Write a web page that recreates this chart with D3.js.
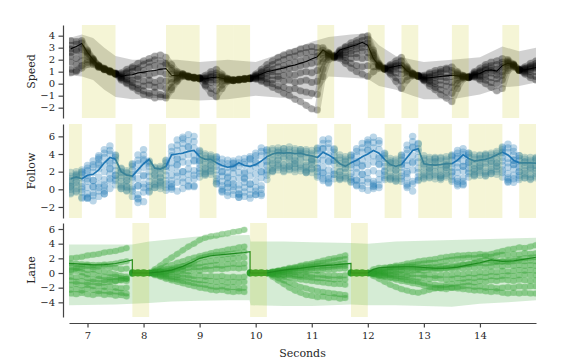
<!DOCTYPE html>
<html><head><meta charset="utf-8">
<script src="https://cdn.jsdelivr.net/npm/d3@7"></script>
<style>body{margin:0;background:#fff}svg{display:block}</style>
</head><body><svg id="c" width="576" height="360"></svg>
<script>
// ---------------- DATA ----------------
const times = [6.7,6.8,6.9,7.0,7.1,7.2,7.3,7.4,7.5,7.6,7.7,7.8,7.9,8.0,8.1,8.2,8.3,8.4,8.5,8.6,8.7,8.8,8.9,9.0,9.1,9.2,9.3,9.4,9.5,9.6,9.7,9.8,9.9,10.0,10.1,10.2,10.3,10.4,10.5,10.6,10.7,10.8,10.9,11.0,11.1,11.2,11.3,11.4,11.5,11.6,11.7,11.8,11.9,12.0,12.1,12.2,12.3,12.4,12.5,12.6,12.7,12.8,12.9,13.0,13.1,13.2,13.3,13.4,13.5,13.6,13.7,13.8,13.9,14.0,14.1,14.2,14.3,14.4,14.5,14.6,14.7,14.8,14.9,15.0];
const xTicks = [7,8,9,10,11,12,13,14];
const speedTicks = [-2,-1,0,1,2,3,4];
const followTicks = [-2,0,2,4,6];
const laneTicks = [-4,-2,0,2,4,6];

const speedYellow = [[6.9,7.5],[8.4,8.7],[8.7,9.0],[9.3,9.6],[9.6,9.9],[11.1,11.4],[12.0,12.3],[12.6,12.9],[13.5,13.8],[14.4,14.7]];
const followYellow = [[6.67,6.9],[7.5,7.8],[8.1,8.4],[9.0,9.3],[10.2,10.5],[10.5,11.1],[11.4,11.7],[12.3,12.6],[12.9,13.2],[13.2,13.5],[13.8,14.1],[14.1,14.4],[14.7,15.0]];
const laneYellow = [[7.8,8.1],[9.9,10.2],[11.7,12.0]];

// Speed
const speedTruth = [2.9,3.1,3.35,2.6,2.0,1.5,1.25,1.05,0.85,0.6,0.7,0.75,0.9,0.95,1.05,1.1,1.2,1.25,0.7,0.65,0.75,0.6,0.5,0.45,0.4,0.5,0.55,0.45,0.35,0.3,0.35,0.4,0.45,0.6,0.8,1.0,1.1,1.2,1.3,1.45,1.55,1.7,1.85,2.05,2.25,2.8,2.5,2.3,2.8,2.95,3.1,3.25,3.45,3.2,2.1,1.5,1.25,1.35,1.45,1.55,1.05,0.8,0.65,0.45,0.5,0.55,0.6,0.65,0.7,0.65,0.6,0.55,0.75,0.85,1.1,1.15,1.05,1.5,1.7,1.55,1.15,1.15,1.25,1.35];
const speedBandT  = [6.67,6.9,7.1,7.3,7.5,7.8,8.2,8.6,9.0,9.5,10.0,10.5,11.0,11.3,11.7,12.0,12.2,12.5,12.8,13.0,13.5,14.0,14.4,14.7,15.0];
const speedBandLo = [0.7,0.6,0.3,-0.5,-1.1,-1.3,-1.2,-1.3,-1.4,-1.3,-1.0,-1.2,-1.3,0.6,0.5,0.4,-0.2,-0.5,-1.0,-1.3,-1.3,-0.9,-0.3,-0.2,0.1];
const speedBandHi = [3.8,4.1,3.8,3.0,2.3,2.0,2.0,2.0,1.8,2.0,1.8,2.6,3.5,3.9,4.1,4.2,3.2,2.3,2.0,1.8,2.0,2.2,3.1,2.7,3.0];
const speedSample1 = [3.6,3.5,3.6,2.8,2.1,1.55,1.3,1.1,0.9,0.9,1.2,1.4,1.7,1.9,2.1,2.3,2.4,2.2,1.6,1.0,0.85,0.65,0.55,0.5,0.7,1.0,1.2,0.8,0.45,0.35,0.4,0.45,0.5,0.8,1.2,1.6,1.9,2.2,2.4,2.6,2.7,2.9,3.0,3.1,3.0,3.0,2.6,2.35,2.8,3.1,3.4,3.6,3.9,4.0,2.8,1.7,1.3,1.6,1.9,2.2,1.4,0.9,0.7,0.7,0.9,1.1,1.2,1.3,1.4,1.0,0.7,0.6,1.0,1.3,1.6,1.8,1.9,2.1,2.0,1.65,1.2,1.4,1.7,1.9];
const speedSample2 = [3.2,3.3,3.4,2.7,2.05,1.5,1.25,1.05,0.85,0.8,1.0,1.3,1.3,1.6,1.8,2.0,1.9,1.7,1.3,0.9,0.8,0.6,0.5,0.45,0.55,0.8,0.9,0.65,0.4,0.3,0.35,0.4,0.45,0.7,1.0,1.3,1.6,1.8,2.0,2.2,2.3,2.5,2.6,2.7,2.6,2.8,2.55,2.3,2.7,3.0,3.2,3.4,3.6,3.7,2.6,1.6,1.3,1.5,1.7,1.9,1.3,0.85,0.65,0.6,0.8,0.9,1.0,1.2,1.1,0.9,0.65,0.55,0.9,1.1,1.4,1.5,1.6,1.8,1.9,1.6,1.2,1.3,1.5,1.7];
const speedSample3 = [2.9,2.8,3.0,2.6,2.0,1.45,1.2,1.0,0.8,0.7,0.9,1.0,1.2,1.1,1.4,1.5,1.4,1.6,1.1,0.8,0.8,0.65,0.55,0.5,0.45,0.6,0.7,0.55,0.4,0.3,0.35,0.4,0.45,0.65,0.9,1.1,1.2,1.4,1.5,1.7,1.8,1.9,2.1,2.2,2.3,2.6,2.5,2.3,2.6,2.8,3.0,3.1,3.3,3.4,2.4,1.55,1.25,1.4,1.5,1.6,1.2,0.85,0.7,0.55,0.6,0.7,0.9,0.8,0.9,0.8,0.65,0.55,0.8,1.0,1.2,1.3,1.2,1.6,1.8,1.6,1.15,1.25,1.4,1.5];
const speedSample4 = [2.6,2.7,2.9,2.5,1.95,1.5,1.25,1.05,0.85,0.6,0.6,0.7,0.6,0.8,0.7,0.9,1.0,0.8,0.8,0.7,0.75,0.6,0.5,0.45,0.4,0.5,0.55,0.5,0.35,0.3,0.35,0.4,0.45,0.6,0.7,0.9,1.0,1.0,1.2,1.3,1.3,1.5,1.6,1.7,1.8,2.4,2.45,2.25,2.5,2.6,2.7,2.9,3.0,3.1,2.3,1.5,1.25,1.3,1.4,1.5,1.1,0.8,0.65,0.5,0.5,0.5,0.6,0.5,0.6,0.7,0.6,0.55,0.75,0.9,1.1,1.1,1.0,1.4,1.75,1.55,1.15,1.2,1.3,1.4];
const speedSample5 = [2.3,2.1,2.4,2.3,1.9,1.45,1.2,1.0,0.8,0.5,0.4,0.3,0.4,0.2,0.3,0.1,0.3,0.2,0.4,0.55,0.7,0.55,0.45,0.4,0.3,0.3,0.3,0.4,0.35,0.3,0.3,0.35,0.4,0.5,0.6,0.6,0.7,0.6,0.7,0.8,0.7,0.9,1.0,0.9,1.1,2.1,2.4,2.25,2.4,2.4,2.5,2.5,2.7,2.6,2.1,1.5,1.2,1.2,1.2,1.2,1.0,0.8,0.6,0.4,0.3,0.2,0.3,0.2,0.1,0.5,0.55,0.5,0.7,0.7,0.8,0.9,0.7,1.0,1.65,1.5,1.1,1.1,1.2,1.3];
const speedSample6 = [1.8,1.6,1.9,2.0,1.8,1.4,1.2,1.0,0.85,0.5,0.3,0.1,-0.1,-0.2,-0.1,-0.3,-0.2,-0.4,0.1,0.45,0.7,0.6,0.5,0.45,0.2,0.1,0.0,0.2,0.3,0.25,0.35,0.4,0.45,0.5,0.5,0.4,0.3,0.4,0.2,0.3,0.1,0.2,0.3,0.1,0.2,1.8,2.3,2.2,2.3,2.2,2.1,2.2,2.1,2.2,1.9,1.45,1.25,1.1,0.9,0.8,0.9,0.75,0.65,0.35,0.2,0.0,-0.1,-0.2,-0.3,0.3,0.55,0.55,0.65,0.6,0.6,0.5,0.4,0.7,1.5,1.5,1.15,1.0,1.0,1.0];
const speedSample7 = [1.2,1.1,1.5,1.8,1.7,1.4,1.15,1.05,0.8,0.4,0.1,-0.2,-0.4,-0.6,-0.8,-0.7,-0.9,-1.0,-0.3,0.3,0.65,0.55,0.45,0.4,-0.1,-0.4,-0.6,-0.1,0.25,0.25,0.3,0.35,0.4,0.4,0.3,0.1,0.0,-0.2,-0.3,-0.5,-0.4,-0.6,-0.7,-0.8,-0.9,1.2,2.2,2.2,2.2,1.9,1.7,1.5,1.4,1.5,1.4,1.4,1.2,0.9,0.5,0.2,0.6,0.7,0.6,0.3,0.0,-0.3,-0.5,-0.7,-0.8,0.0,0.5,0.5,0.6,0.4,0.3,0.1,0.0,0.3,1.3,1.45,1.1,0.9,0.7,0.6];
const speedSample8 = [0.9,1.0,1.3,1.6,1.6,1.35,1.2,0.95,0.8,0.3,0.0,-0.3,-0.6,-0.9,-1.0,-1.2,-1.1,-1.2,-0.5,0.2,0.6,0.55,0.5,0.45,-0.2,-0.8,-1.1,-0.4,0.2,0.25,0.3,0.4,0.45,0.4,0.2,0.0,-0.3,-0.5,-0.8,-1.0,-1.3,-1.5,-1.8,-2.1,-2.2,0.6,2.0,2.15,2.1,1.7,1.3,1.0,0.8,0.6,1.0,1.3,1.2,0.8,0.2,-0.4,0.3,0.65,0.6,0.25,-0.2,-0.5,-0.9,-1.2,-1.5,-0.4,0.4,0.5,0.55,0.3,0.0,-0.3,-0.6,-0.4,1.1,1.4,1.1,0.8,0.5,0.3];

// Follow
const followTruth = [1.2,1.4,1.2,1.6,1.7,2.2,3.0,3.6,3.4,2.0,1.6,1.5,2.2,2.9,3.4,2.4,2.3,2.6,3.9,4.0,4.1,4.3,4.4,3.7,3.4,3.4,3.0,2.7,2.5,2.6,3.0,2.7,2.6,2.8,3.2,3.7,4.0,4.15,4.1,4.15,4.05,4.1,3.9,3.8,3.6,4.2,3.9,3.5,2.9,2.6,3.0,3.3,3.7,4.0,4.4,4.1,3.4,2.8,2.6,2.8,3.6,4.4,4.6,2.9,2.8,2.75,2.8,2.9,2.9,3.3,3.9,3.5,3.2,3.3,3.4,3.6,3.9,4.2,3.9,3.3,3.0,3.0,3.0,2.95];
const followSample1 = [-0.5,-0.3,-0.9,-1.0,-1.3,-0.8,-0.5,0.1,0.5,0.1,-0.1,-0.8,-1.5,-1.4,-0.2,0.2,0.1,-0.1,0.2,-0.2,0.1,0.3,0.4,1.4,1.6,1.7,0.7,-0.3,-0.7,-0.6,-0.9,-0.8,-1.0,-0.6,-0.5,1.1,2.0,2.2,2.1,2.3,2.0,2.1,1.9,1.9,1.4,1.0,0.8,1.2,1.1,1.2,0.9,0.4,0.1,-0.1,0.3,0.2,1.1,1.1,1.0,0.9,0.2,-0.2,1.1,1.2,1.3,1.2,1.3,1.4,0.9,0.4,0.6,1.4,1.5,1.6,1.6,1.8,1.7,1.4,0.9,0.8,1.1,1.3,1.2,1.3];
const followSample2 = [0.0,0.1,-0.3,-0.5,-0.4,-0.2,0.5,0.9,1.0,0.5,0.3,-0.2,-0.6,-0.3,0.4,0.5,0.6,0.6,1.0,0.8,1.3,1.0,1.2,1.8,2.0,2.1,1.2,0.4,0.2,-0.1,0.0,-0.3,0.0,0.2,0.4,1.6,2.4,2.5,2.7,2.6,2.5,2.4,2.5,2.3,2.0,1.8,1.5,1.7,1.6,1.5,1.4,1.1,1.0,1.2,0.9,1.1,1.6,1.5,1.4,1.5,1.3,0.9,1.9,1.7,1.6,1.7,1.6,1.8,1.5,1.2,1.3,2.0,2.0,2.1,2.0,2.2,2.3,2.2,1.8,1.6,1.6,1.8,1.7,1.8];
const followSample3 = [0.4,0.5,0.3,0.2,0.3,0.6,1.1,1.7,1.6,0.9,0.6,0.3,0.4,0.6,0.9,0.9,0.8,1.0,1.6,1.9,2.0,2.3,2.1,2.4,2.3,2.4,1.6,0.9,0.7,0.6,0.5,0.8,0.6,0.9,1.3,2.2,2.8,2.9,2.8,3.0,2.9,2.8,2.7,2.8,2.4,2.5,2.2,2.1,2.0,1.9,1.8,1.9,1.7,1.9,2.1,1.8,2.0,1.9,1.8,1.9,2.0,2.2,2.4,2.0,2.1,2.0,2.1,2.2,2.0,1.9,2.1,2.4,2.3,2.4,2.5,2.5,2.6,2.7,2.5,2.3,2.0,2.1,2.2,2.1];
const followSample4 = [0.8,0.9,0.7,0.9,1.0,1.4,2.0,2.3,2.1,1.3,1.0,1.1,1.2,1.6,1.5,1.3,1.4,1.6,2.4,2.7,3.1,3.0,3.3,2.9,2.8,2.7,2.2,1.5,1.4,1.1,1.3,1.2,1.5,1.7,2.0,2.7,3.3,3.3,3.5,3.4,3.2,3.4,3.1,3.2,3.0,3.3,3.1,2.9,2.6,2.4,2.5,2.4,2.7,2.8,3.1,2.8,2.6,2.4,2.2,2.5,2.7,3.1,3.1,2.5,2.4,2.5,2.3,2.5,2.5,2.5,2.6,2.8,2.7,2.6,2.9,2.9,3.0,3.2,3.0,2.8,2.5,2.4,2.5,2.4];
const followSample5 = [1.2,1.3,1.3,1.6,1.9,2.3,2.8,3.2,2.7,1.6,1.4,1.7,2.1,2.5,2.0,1.7,1.8,2.1,3.0,3.5,3.7,3.9,3.9,3.2,3.1,3.2,2.6,2.0,1.9,1.8,1.9,2.0,2.2,2.5,2.8,3.1,3.6,3.8,3.7,3.8,3.7,3.6,3.6,3.4,3.4,3.9,3.9,3.3,2.9,2.8,2.8,3.1,3.3,3.6,3.8,3.7,3.0,2.7,2.6,2.9,3.3,3.8,3.6,2.9,2.8,2.7,2.8,2.7,2.9,3.0,3.2,3.1,3.0,3.0,3.1,3.2,3.4,3.6,3.5,3.3,2.8,2.7,2.8,2.7];
const followSample6 = [1.5,1.6,1.7,2.1,2.5,3.0,3.6,4.0,3.3,2.0,1.8,2.2,2.9,3.4,2.6,2.1,2.2,2.6,3.8,4.4,4.6,4.8,4.7,3.7,3.5,3.4,3.1,2.6,2.5,2.5,2.6,2.8,2.9,3.3,3.8,3.8,4.0,4.2,4.1,4.2,4.1,4.0,4.0,3.9,4.0,4.6,4.7,3.8,3.3,3.2,3.3,3.8,4.2,4.5,4.7,4.5,3.5,3.0,3.0,3.3,4.1,4.8,4.3,3.3,3.1,3.1,3.2,3.2,3.3,3.7,3.9,3.6,3.4,3.5,3.5,3.6,3.8,4.2,4.2,3.9,3.2,3.1,3.1,3.2];
const followSample7 = [1.9,2.0,2.2,2.7,3.2,3.8,4.5,4.9,3.9,2.4,2.1,2.9,3.9,4.5,3.2,2.5,2.6,3.3,4.8,5.6,5.9,6.2,6.0,4.4,4.0,3.9,3.7,3.4,3.3,3.2,3.4,3.5,3.7,4.1,4.7,4.5,4.6,4.7,4.6,4.8,4.6,4.5,4.5,4.4,4.7,5.6,5.7,4.6,3.9,3.7,3.9,4.6,5.2,5.6,5.9,5.5,4.1,3.5,3.4,3.9,5.0,6.0,5.2,3.8,3.6,3.6,3.6,3.7,3.9,4.4,4.6,4.1,3.9,3.9,4.0,4.1,4.3,4.8,5.1,4.7,3.8,3.6,3.6,3.6];
const followSample8 = [0.3,1.7,0.0,2.4,-0.7,3.4,0.3,4.4,1.2,2.3,0.2,2.6,-1.0,3.9,0.2,2.4,0.4,3.0,0.6,5.0,0.8,5.5,1.6,4.1,1.8,3.7,0.9,3.0,-0.3,2.9,-0.5,3.1,-0.6,3.8,0.0,4.2,2.1,4.4,2.4,4.5,2.3,4.3,2.2,4.1,1.6,5.2,1.2,4.2,1.3,3.4,1.1,4.3,0.4,5.1,0.6,5.2,1.3,3.2,1.2,3.6,0.6,5.4,1.4,3.5,1.4,3.4,1.5,3.4,1.1,4.1,0.9,3.9,1.7,3.8,1.8,3.9,2.0,4.5,1.3,4.3,1.3,3.4,1.4,3.4];
const followSample9 = [1.0,-0.2,1.9,-0.9,2.8,0.2,4.1,1.2,3.6,0.3,1.9,0.0,3.3,0.2,2.9,0.6,2.4,0.2,4.3,1.5,5.2,1.7,5.4,2.1,3.8,2.0,3.4,0.0,2.9,0.3,3.0,0.2,3.4,-0.2,4.3,1.9,4.4,2.7,4.3,2.6,4.4,2.6,4.3,2.4,4.4,1.9,5.2,1.7,3.6,1.3,3.6,1.0,4.7,0.8,5.3,0.5,3.8,1.3,3.2,1.2,4.5,0.6,4.6,1.5,3.4,1.5,3.5,1.6,3.7,0.9,4.2,1.8,3.6,1.9,3.8,2.0,4.1,1.9,4.7,1.2,3.5,1.6,3.3,1.5];
const followSample10 = [-0.4,0.8,2.0,-1.0,1.0,3.6,-0.2,2.4,3.8,0.1,1.0,2.8,-1.1,1.5,3.1,0.2,1.3,3.2,0.3,2.8,5.7,0.4,3.2,4.3,1.7,2.8,3.6,-0.2,1.3,3.0,-0.6,1.3,3.5,-0.6,2.0,4.4,2.1,3.4,4.6,2.2,3.3,4.5,2.0,3.1,4.6,1.2,3.2,4.5,1.2,2.4,3.8,0.5,2.6,5.3,0.4,2.9,4.0,1.2,2.2,3.8,0.4,3.0,5.1,1.3,2.4,3.5,1.3,2.5,3.8,0.6,2.6,4.1,1.6,2.7,3.9,1.8,3.0,4.7,1.1,2.8,3.8,1.3,2.4,3.5];
const followSample11 = [0.3,1.5,-1.0,1.2,0.3,2.8,-0.5,3.0,1.6,1.9,-0.2,1.4,0.4,3.2,-0.3,1.6,0.9,2.6,0.0,3.4,2.0,4.8,0.3,3.3,2.4,3.5,0.6,2.0,0.6,2.4,-0.9,1.8,0.6,3.0,-0.7,3.2,2.9,4.2,2.0,3.7,2.9,4.1,1.9,3.4,2.4,4.6,0.7,3.3,2.0,3.1,0.8,3.0,1.7,4.4,0.1,3.5,2.1,3.0,0.9,2.8,1.8,4.7,1.0,2.8,2.0,3.1,1.1,2.8,1.9,3.5,0.5,3.1,2.3,3.4,1.5,3.2,2.6,4.1,0.8,3.3,2.0,3.1,1.1,2.7];

// Lane
const laneTruthT = [6.67,6.9,7.1,7.3,7.5,7.7,7.8,7.8,8.1,8.3,8.5,8.7,8.9,9.0,9.2,9.4,9.6,9.8,9.9,9.9,10.2,10.4,10.6,10.8,11.0,11.2,11.4,11.6,11.7,11.7,12.0,12.1,12.2,12.4,12.6,12.8,13.0,13.2,13.4,13.6,13.8,14.0,14.2,14.4,14.6,14.8,15.0];
const laneTruth  = [1.3,1.2,1.1,1.15,1.3,1.6,1.8,0,0,0.15,0.4,0.9,1.6,2.0,2.35,2.5,2.65,2.8,2.9,0,0,0.3,0.5,0.65,0.85,1.0,1.1,1.25,1.3,0,0,0.5,0.72,0.8,0.85,0.85,0.75,0.65,0.65,0.8,1.1,1.4,1.8,1.6,1.65,1.9,2.15];
const laneBandT  = [6.67,7.5,7.8,8.1,8.5,9.0,9.5,9.89,9.91,10.5,11.0,11.7,12.0,12.5,13.0,13.5,14.0,14.5,15.0];
const laneBandLo = [-4.4,-4.3,-4.2,-4.1,-3.9,-3.8,-3.7,-3.7,-4.4,-4.5,-4.5,-4.3,-4.4,-4.4,-4.5,-4.6,-4.2,-4.0,-3.7];
const laneBandHi = [3.9,3.9,3.9,4.3,4.6,5.0,5.1,5.2,4.3,4.3,4.2,4.1,4.0,4.3,4.4,4.5,4.6,4.7,4.8];
const laneSample1 = [2.0,2.1,2.2,2.4,2.5,2.6,2.8,2.9,3.0,3.2,3.4, 0.1,0.05,-0.05, 0.0,0.5,1.0,1.6,2.1,2.6,3.1,3.6,4.0,4.5,4.8,5.0,5.1,5.3,5.4,5.6,5.7,5.9, 0.1,0.0,-0.05, 0,0.2,0.3,0.5,0.7,0.8,1.0,1.2,1.3,1.5,1.7,1.9,2.0,2.2,2.4, 0.05,0.1,0.0, 0,0.2,0.4,0.6,0.8,1.0,1.1,1.3,1.4,1.6,1.7,1.8,1.9,2.1,2.2,2.3,2.4,2.4,2.5,2.5,2.6,2.5,2.6,2.8,3.0,3.2,3.3,3.5,3.4,3.6,3.8];
const laneSample2 = [1.3,1.25,1.2,1.15,1.1,1.1,1.15,1.2,1.3,1.45,1.6, -0.05,0.05,0.0, 0.0,0.1,0.15,0.2,0.4,0.6,0.9,1.2,1.6,2.0,2.2,2.35,2.45,2.5,2.6,2.65,2.75,2.9, 0.0,0.05,0.0, 0,0.15,0.3,0.4,0.5,0.6,0.65,0.75,0.85,0.95,1.0,1.05,1.1,1.2,1.3, 0.0,-0.05,0.05, 0,0.5,0.72,0.75,0.8,0.85,0.85,0.85,0.85,0.8,0.75,0.7,0.65,0.65,0.7,0.8,0.9,1.1,1.2,1.4,1.6,1.8,1.7,1.6,1.55,1.7,1.8,1.9,2.0,2.1,2.15];
const laneSample3 = [0.9,0.7,0.6,0.4,0.5,0.3,0.2,0.0,-0.2,-0.4,-0.5, 0.05,-0.1,0.05, 0.0,0.3,0.6,0.9,1.1,1.4,1.6,1.9,2.1,2.3,2.5,2.7,2.9,3.0,3.2,3.3,3.5,3.6, -0.05,0.05,0.1, 0,0.1,0.3,0.4,0.6,0.7,0.9,1.0,1.1,1.3,1.4,1.5,1.7,1.8,1.9, -0.1,0.0,0.05, 0,0.1,0.3,0.4,0.6,0.7,0.8,1.0,1.1,1.2,1.3,1.4,1.4,1.5,1.7,1.8,1.9,2.0,2.1,2.0,2.2,2.3,2.2,2.4,2.5,2.4,2.6,2.5,2.7,2.6,2.7];
const laneSample4 = [0.2,0.3,0.1,-0.2,-0.1,-0.4,-0.5,-0.6,-0.5,-0.7,-0.8, 0.0,0.1,-0.05, 0.0,0.2,0.3,0.5,0.6,0.8,0.9,1.1,1.2,1.3,1.5,1.6,1.7,1.8,1.9,2.0,2.0,2.1, 0.05,-0.05,0.0, 0,0.1,0.2,0.2,0.3,0.4,0.4,0.5,0.6,0.7,0.7,0.8,0.9,1.0,1.0, 0.05,0.0,-0.1, 0,0.1,0.2,0.2,0.3,0.4,0.4,0.5,0.6,0.6,0.7,0.8,0.8,0.9,1.0,1.0,1.1,1.2,1.2,1.3,1.4,1.3,1.4,1.5,1.6,1.5,1.6,1.7,1.6,1.7,1.6];
const laneSample5 = [-0.5,-0.6,-0.4,-0.7,-0.9,-0.8,-1.0,-0.9,-1.1,-1.0,-1.1, -0.05,0.05,0.1, 0.0,0.1,0.2,0.2,0.4,0.5,0.5,0.7,0.8,0.8,0.9,1.0,1.1,1.0,1.2,1.3,1.2,1.3, 0.0,0.1,-0.05, 0,0.0,0.1,0.1,0.2,0.1,0.3,0.2,0.4,0.3,0.5,0.4,0.5,0.6,0.6, 0.1,-0.05,0.0, 0,0.0,0.1,0.0,0.2,0.1,0.3,0.2,0.3,0.4,0.3,0.5,0.4,0.5,0.6,0.5,0.7,0.6,0.8,0.7,0.9,0.8,0.9,1.0,0.9,1.1,1.0,1.1,1.0,1.1,1.0];
const laneSample6 = [-1.0,-1.2,-1.1,-1.3,-1.2,-1.4,-1.3,-1.2,-1.1,-0.9,-0.8, 0.1,0.0,-0.1, 0.0,0.0,0.1,0.0,0.2,0.1,0.3,0.2,0.4,0.3,0.5,0.4,0.6,0.5,0.6,0.7,0.6,0.7, -0.1,0.0,0.05, 0,-0.1,-0.1,-0.2,-0.1,-0.2,-0.3,-0.2,-0.3,-0.2,-0.3,-0.4,-0.3,-0.4,-0.3, 0.0,0.05,-0.05, 0,-0.1,0.0,-0.1,-0.2,-0.1,-0.2,-0.3,-0.2,-0.1,-0.3,-0.2,-0.4,-0.3,-0.2,-0.3,-0.1,-0.2,0.0,-0.1,0.1,0.0,0.2,0.1,0.3,0.2,0.3,0.4,0.3,0.4,0.3];
const laneSample7 = [-1.6,-1.5,-1.7,-1.6,-1.8,-1.7,-1.9,-1.8,-2.0,-2.1,-2.0, -0.1,0.05,0.0, 0.0,-0.1,-0.1,-0.2,-0.1,-0.3,-0.2,-0.3,-0.4,-0.3,-0.5,-0.4,-0.5,-0.4,-0.6,-0.5,-0.6,-0.5, 0.05,-0.1,0.0, 0,-0.1,-0.2,-0.3,-0.3,-0.4,-0.5,-0.5,-0.6,-0.7,-0.7,-0.8,-0.9,-0.8,-0.9, -0.05,0.0,0.1, 0,-0.1,-0.2,-0.3,-0.3,-0.4,-0.5,-0.5,-0.6,-0.7,-0.6,-0.8,-0.7,-0.8,-0.9,-0.8,-0.7,-0.8,-0.6,-0.7,-0.5,-0.6,-0.4,-0.5,-0.4,-0.3,-0.4,-0.3,-0.2,-0.3,-0.3];
const laneSample8 = [-2.3,-2.2,-2.4,-2.1,-2.3,-2.5,-2.4,-2.6,-2.5,-2.7,-2.8, 0.0,-0.05,0.1, 0.0,-0.1,-0.3,-0.4,-0.5,-0.6,-0.6,-0.7,-0.9,-1.0,-1.0,-1.1,-1.2,-1.1,-1.3,-1.2,-1.3,-1.2, 0.1,0.0,-0.05, 0,-0.2,-0.3,-0.5,-0.6,-0.8,-0.9,-1.0,-1.1,-1.2,-1.3,-1.4,-1.5,-1.5,-1.6, 0.0,0.1,-0.05, 0,-0.1,-0.3,-0.4,-0.6,-0.7,-0.8,-1.0,-1.1,-1.2,-1.4,-1.5,-1.6,-1.7,-1.6,-1.5,-1.4,-1.3,-1.2,-1.3,-1.1,-1.2,-1.0,-1.1,-0.9,-1.0,-1.1,-0.9,-1.0,-1.1,-1.0];
const laneSample9 = [-2.8,-2.9,-2.7,-2.9,-3.0,-2.8,-3.0,-2.9,-3.1,-3.0,-3.2, -0.1,0.0,0.05, 0.0,-0.2,-0.4,-0.6,-0.8,-0.9,-1.1,-1.2,-1.4,-1.5,-1.6,-1.8,-1.9,-1.8,-2.0,-1.9,-2.1,-2.0, 0.0,0.05,0.1, 0,-0.3,-0.7,-1.0,-1.3,-1.6,-1.9,-2.1,-2.3,-2.5,-2.6,-2.7,-2.8,-2.9,-3.0, 0.05,-0.1,0.0, 0,-0.2,-0.4,-0.5,-0.7,-0.9,-1.1,-1.2,-1.4,-1.5,-1.7,-1.9,-2.0,-2.1,-2.2,-2.0,-1.9,-1.8,-1.7,-1.9,-1.8,-2.0,-1.9,-2.1,-2.0,-1.9,-2.0,-1.8,-1.9,-1.8,-1.8];
const laneSample10 = [0.4,0.6,0.9,1.0,0.8,0.9,1.0,0.8,0.7,0.5,0.6, 0.05,0.0,-0.1, 0.0,-0.3,-0.5,-0.8,-1.0,-1.2,-1.4,-1.6,-1.8,-2.0,-2.1,-2.3,-2.4,-2.3,-2.5,-2.6,-2.5,-2.6, -0.05,0.0,0.05, 0,-0.5,-1.0,-1.5,-2.0,-2.4,-2.7,-3.0,-3.1,-3.3,-3.2,-3.4,-3.3,-3.5,-3.4, 0.0,-0.05,0.05, 0,-0.4,-0.8,-1.2,-1.6,-1.9,-2.2,-2.4,-2.6,-2.7,-2.5,-2.3,-2.1,-2.0,-1.9,-2.0,-2.1,-2.2,-2.3,-2.4,-2.4,-2.5,-2.6,-2.5,-2.7,-2.8,-2.7,-2.8,-2.7,-2.8,-2.8];

// ---------------- CHART ----------------
const FONT = '"DejaVu Serif", serif';
const svg = d3.select('#c');
const x = d3.scaleLinear().domain([6.67, 15.0]).range([69, 536]);
const YELLOW = 'rgb(191,191,0)';

function panel(p) {
  const y = d3.scaleLinear().domain(p.domain).range([p.bottom, p.top]);
  const id = 'clip' + p.name;
  svg.append('clipPath').attr('id', id).append('rect')
    .attr('x', 69).attr('y', p.top).attr('width', 467).attr('height', p.bottom - p.top);
  const g = svg.append('g').attr('clip-path', `url(#${id})`);

  if (p.band) {
    const [bt, lo, hi] = p.band;
    g.append('path').datum(bt)
      .attr('d', d3.area().x(t => x(t)).y0((d, i) => y(lo[i])).y1((d, i) => y(hi[i])))
      .attr('fill', p.bandColor).attr('fill-opacity', p.bandOpacity);
  }
  p.samples.forEach(s => {
    const pts = times.map((t, i) => ({t, v: s[i]})).filter(d => d.v !== undefined);
    const segs = [];
    let cur = [];
    pts.forEach((d, i) => {
      if (i > 0 && p.breaks && p.breaks.some(b => pts[i - 1].t < b && d.t >= b)) { segs.push(cur); cur = []; }
      cur.push(d);
    });
    segs.push(cur);
    if (p.lineW) {
      segs.forEach(sg => g.append('path').datum(sg)
        .attr('d', d3.line().x(d => x(d.t)).y(d => y(d.v)))
        .attr('fill', 'none').attr('stroke', p.color).attr('stroke-opacity', p.lineOp)
        .attr('stroke-width', p.lineW).attr('stroke-linejoin', 'round').attr('stroke-linecap', 'round'));
    }
    g.append('g').selectAll('circle').data(pts).join('circle')
      .attr('cx', d => x(d.t)).attr('cy', d => y(d.v)).attr('r', p.r)
      .attr('fill', p.color).attr('fill-opacity', p.dotOp);
  });
  g.append('path').datum(p.truth[0])
    .attr('d', d3.line().x(t => x(t)).y((d, i) => y(p.truth[1][i])))
    .attr('fill', 'none').attr('stroke', p.truthColor).attr('stroke-width', p.truthW);
  p.yellow.forEach(([a, b]) => g.append('rect')
    .attr('x', x(a)).attr('width', x(b) - x(a)).attr('y', p.top).attr('height', p.bottom - p.top)
    .attr('fill', YELLOW).attr('fill-opacity', 0.16));

  const ax = svg.append('g').attr('transform', 'translate(63,0)')
    .call(d3.axisLeft(y).tickValues(p.ticks).tickSize(4.5).tickSizeOuter(0).tickPadding(3.5));
  ax.attr('font-family', FONT).attr('font-size', 10);
  ax.select('.domain').attr('stroke', '#444').attr('stroke-width', 1.2);
  ax.selectAll('.tick line').attr('stroke', '#444').attr('stroke-width', 1.2);
  ax.selectAll('.tick text').attr('fill', '#262626');

  svg.append('text').attr('transform', `translate(31,${(p.top + p.bottom) / 2}) rotate(-90)`)
    .attr('text-anchor', 'middle').attr('dy', '0.35em')
    .attr('font-family', FONT).attr('font-size', 11).attr('fill', '#262626').text(p.name);
}

panel({name: 'Speed', top: 25, bottom: 118, domain: [-2.86, 4.89], ticks: speedTicks, yellow: speedYellow,
  band: [speedBandT, speedBandLo, speedBandHi], bandColor: '#000', bandOpacity: 0.18,
  samples: [speedSample1, speedSample2, speedSample3, speedSample4, speedSample5, speedSample6, speedSample7, speedSample8],
  color: '#000', r: 3.6, dotOp: 0.22, lineW: 6, lineOp: 0.18,
  truth: [times, speedTruth], truthColor: '#000', truthW: 1.1});

panel({name: 'Follow', top: 124, bottom: 218, domain: [-3.25, 7.4], ticks: followTicks, yellow: followYellow,
  samples: [followSample1, followSample2, followSample3, followSample4, followSample5, followSample6, followSample7, followSample8, followSample9, followSample10, followSample11],
  color: '#1f77b4', r: 3.7, dotOp: 0.3, lineW: 0,
  truth: [times, followTruth], truthColor: '#1f77b4', truthW: 1.7});

panel({name: 'Lane', top: 223, bottom: 317, domain: [-6.0, 6.82], ticks: laneTicks, yellow: laneYellow,
  band: [laneBandT, laneBandLo, laneBandHi], bandColor: '#2ca02c', bandOpacity: 0.2,
  samples: [laneSample1, laneSample2, laneSample3, laneSample4, laneSample5, laneSample6, laneSample7, laneSample8, laneSample9, laneSample10],
  breaks: laneYellow.map(d => d[0]), color: '#2ca02c', r: 3.3, dotOp: 0.22, lineW: 5.5, lineOp: 0.3,
  truth: [laneTruthT, laneTruth], truthColor: '#1e8a1e', truthW: 1.2});

const xa = svg.append('g').attr('transform', 'translate(0,323)')
  .call(d3.axisBottom(x).tickValues(xTicks).tickSize(4.5).tickSizeOuter(0).tickPadding(4));
xa.attr('font-family', FONT).attr('font-size', 10);
xa.select('.domain').attr('stroke', '#444').attr('stroke-width', 1.2);
xa.selectAll('.tick line').attr('stroke', '#444').attr('stroke-width', 1.2);
xa.selectAll('.tick text').attr('fill', '#262626');
svg.append('text').attr('x', 302.5).attr('y', 356.5).attr('text-anchor', 'middle')
  .attr('font-family', FONT).attr('font-size', 11).attr('fill', '#262626').text('Seconds');
</script></body></html>
